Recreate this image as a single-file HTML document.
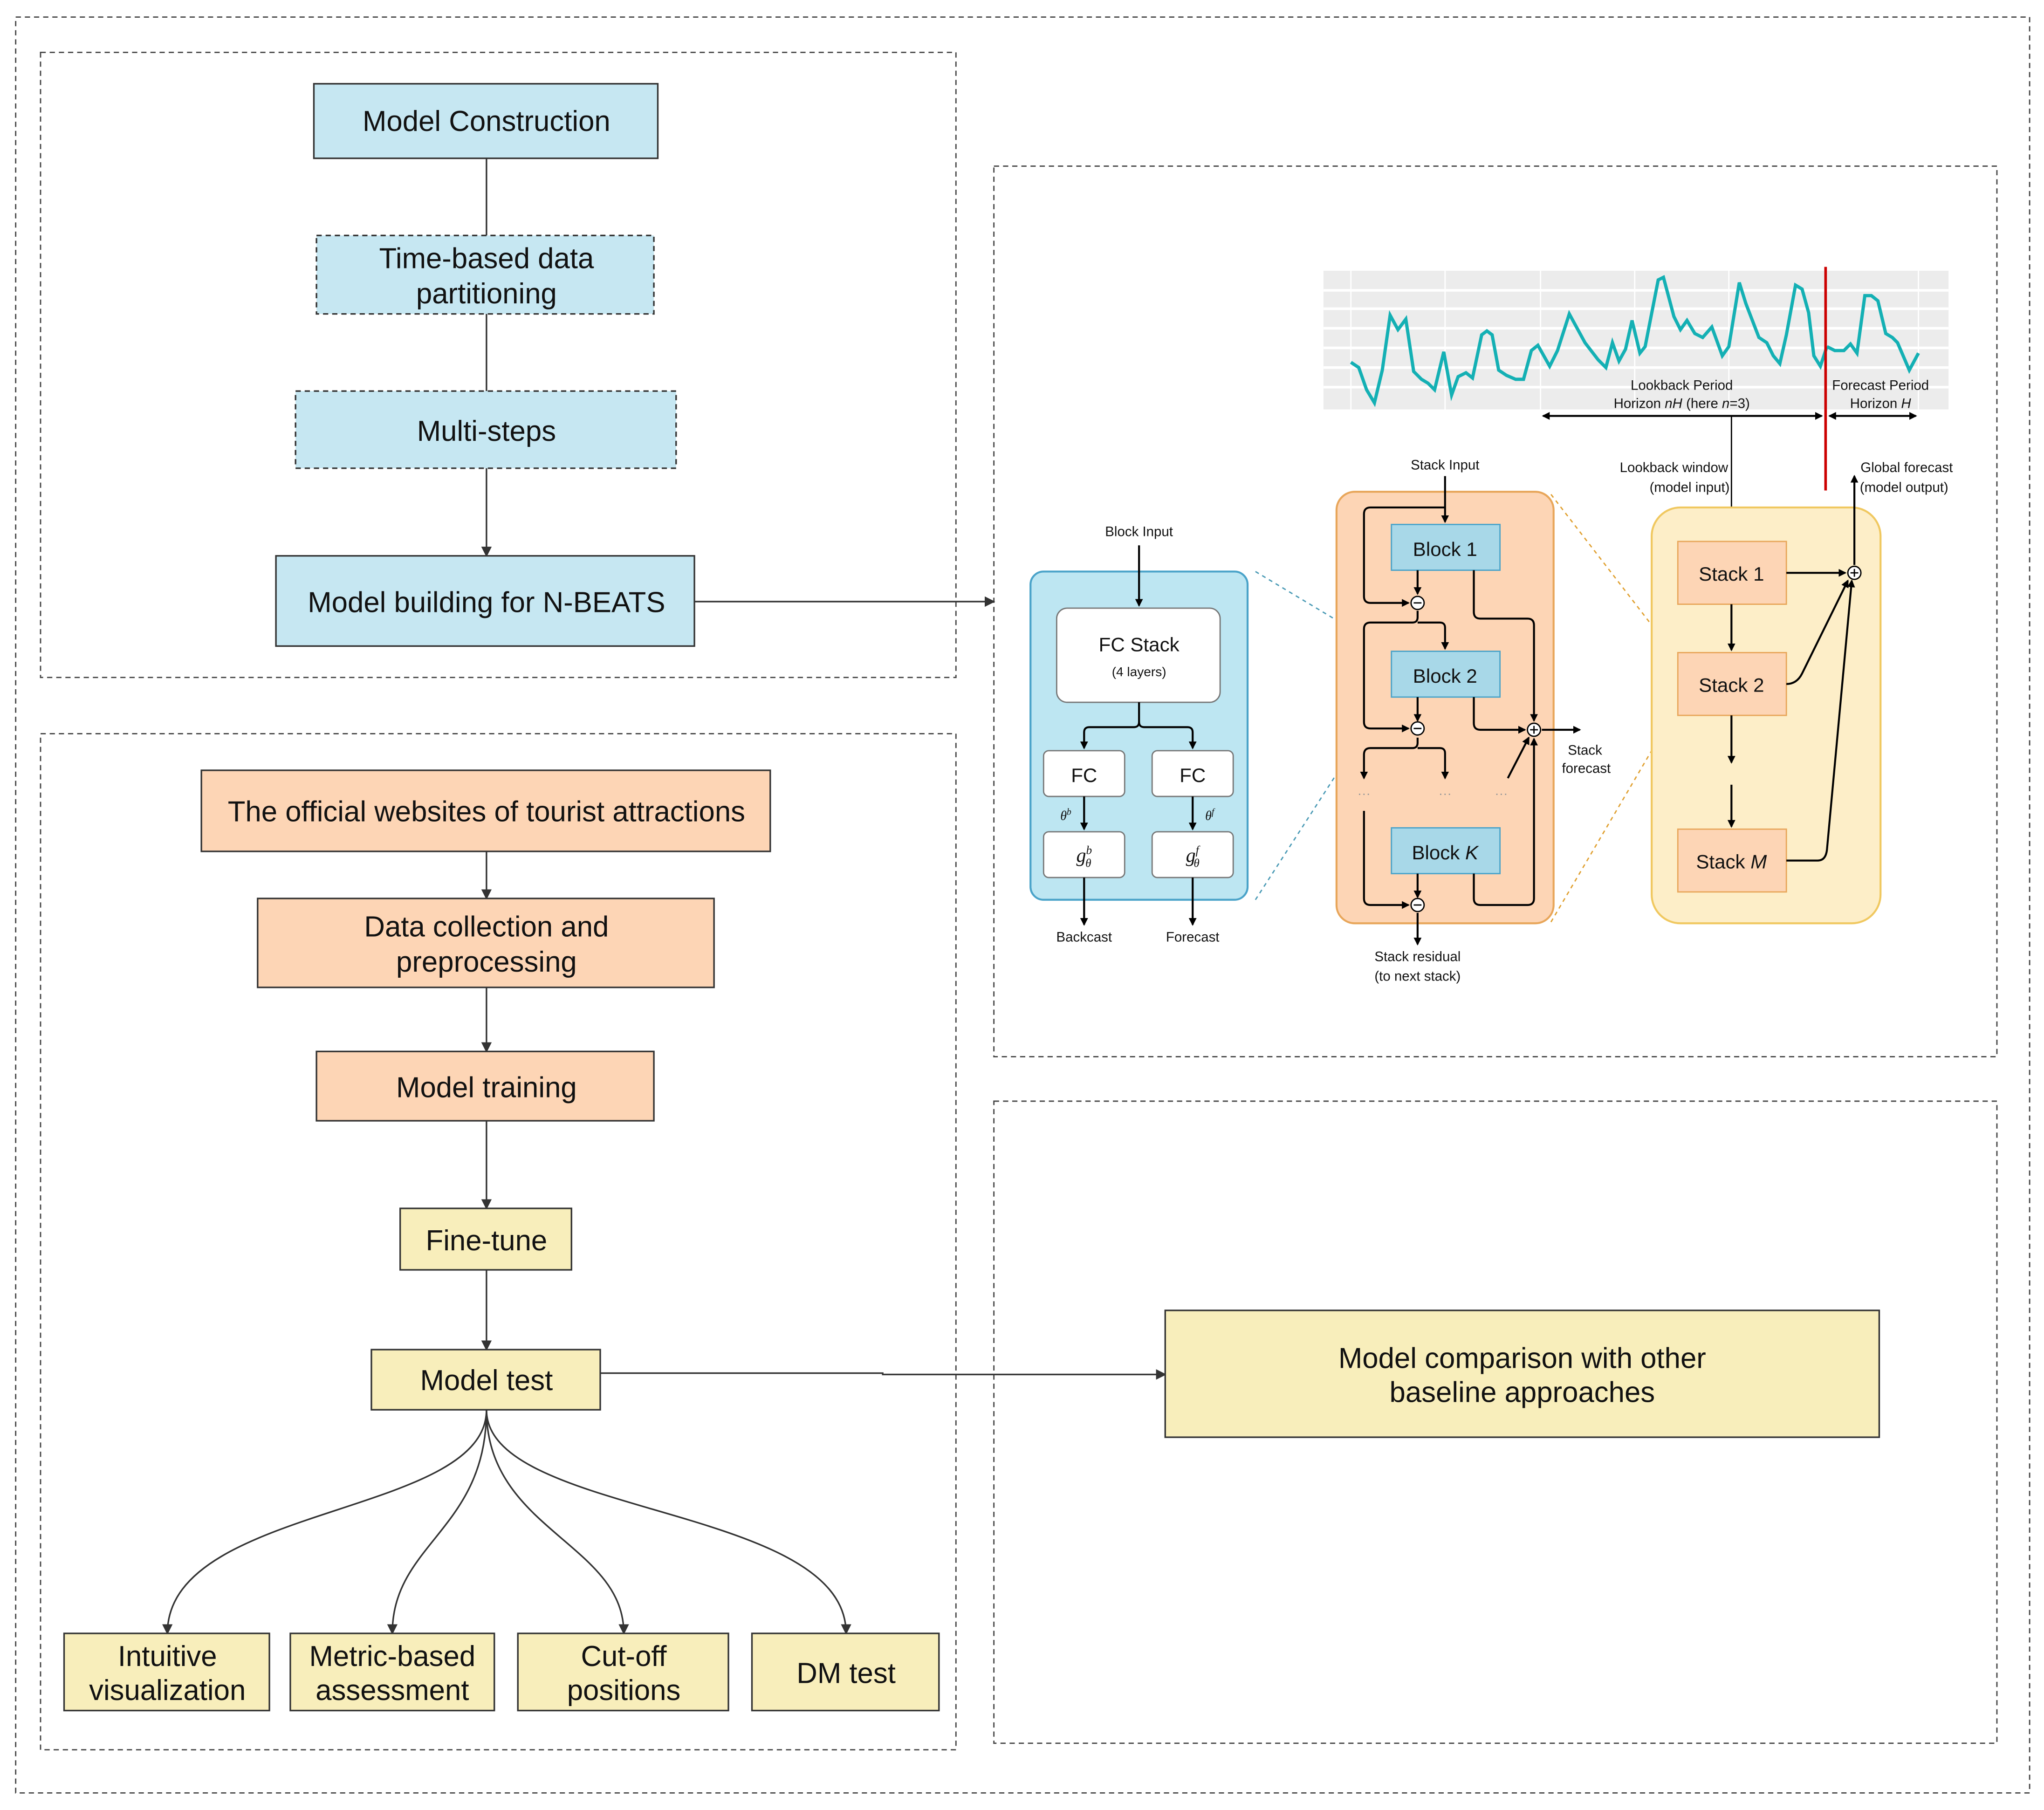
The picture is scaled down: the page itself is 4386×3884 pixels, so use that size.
<!DOCTYPE html>
<html><head><meta charset="utf-8"><style>
html,body{margin:0;padding:0;background:#fff}
svg{display:block}
.t{font-family:"Liberation Sans","DejaVu Sans",sans-serif;fill:#111}
</style></head><body>
<svg width="4386" height="3884" viewBox="0 0 1563 1384" xmlns="http://www.w3.org/2000/svg">
<defs>
<marker id="a" markerWidth="8" markerHeight="8" refX="7" refY="4" orient="auto" markerUnits="userSpaceOnUse"><path d="M0,0 L8,4 L0,8 z" fill="#333"/></marker>
<marker id="s" markerWidth="6" markerHeight="6" refX="5" refY="3" orient="auto" markerUnits="userSpaceOnUse"><path d="M0,0 L6,3 L0,6 z" fill="#000"/></marker>
<marker id="sb" markerWidth="6" markerHeight="6" refX="1" refY="3" orient="auto" markerUnits="userSpaceOnUse"><path d="M6,0 L0,3 L6,6 z" fill="#000"/></marker>
</defs>
<rect width="1563" height="1384" fill="#fff"/>
<g fill="none" stroke="#444" stroke-width="1" stroke-dasharray="4,3">
<rect x="12" y="13" width="1540" height="1358"/>
<rect x="31" y="40" width="700" height="478"/>
<rect x="31" y="561" width="700" height="777"/>
<rect x="760" y="127" width="767" height="681"/>
<rect x="760" y="842" width="767" height="491"/>
</g>
<g stroke="#333" stroke-width="1.2" fill="none">
<line x1="372" y1="121" x2="372" y2="180"/>
<line x1="372" y1="240" x2="372" y2="299"/>
<line x1="372" y1="358" x2="372" y2="425" marker-end="url(#a)"/>
<line x1="531" y1="460" x2="760" y2="460" marker-end="url(#a)"/>
<line x1="372" y1="651" x2="372" y2="687" marker-end="url(#a)"/>
<line x1="372" y1="755" x2="372" y2="804" marker-end="url(#a)"/>
<line x1="372" y1="857" x2="372" y2="924" marker-end="url(#a)"/>
<line x1="372" y1="971" x2="372" y2="1032" marker-end="url(#a)"/>
<path d="M459,1050 L675,1050 L675,1051 L891,1051" marker-end="url(#a)"/>
<path d="M372,1078 C372,1160 128,1150 128,1249" marker-end="url(#a)"/>
<path d="M372,1078 C372,1170 300,1180 300,1249" marker-end="url(#a)"/>
<path d="M372,1078 C372,1170 477,1180 477,1249" marker-end="url(#a)"/>
<path d="M372,1078 C372,1160 647,1150 647,1249" marker-end="url(#a)"/>
</g>
<g stroke="#333" stroke-width="1.2">
<rect x="240" y="64" width="263" height="57" fill="#c6e7f2"/>
<rect x="242" y="180" width="258" height="60" fill="#c6e7f2" stroke-dasharray="4,3"/>
<rect x="226" y="299" width="291" height="59" fill="#c6e7f2" stroke-dasharray="4,3"/>
<rect x="211" y="425" width="320" height="69" fill="#c6e7f2"/>
<rect x="154" y="589" width="435" height="62" fill="#fdd5b5"/>
<rect x="197" y="687" width="349" height="68" fill="#fdd5b5"/>
<rect x="242" y="804" width="258" height="53" fill="#fdd5b5"/>
<rect x="306" y="924" width="131" height="47" fill="#f8eebb"/>
<rect x="284" y="1032" width="175" height="46" fill="#f8eebb"/>
<rect x="891" y="1002" width="546" height="97" fill="#f8eebb"/>
<rect x="49" y="1249" width="157" height="59" fill="#f8eebb"/>
<rect x="222" y="1249" width="156" height="59" fill="#f8eebb"/>
<rect x="396" y="1249" width="161" height="59" fill="#f8eebb"/>
<rect x="575" y="1249" width="143" height="59" fill="#f8eebb"/>
</g>
<g class="t" font-size="22" text-anchor="middle">
<text x="372" y="100">Model Construction</text>
<text x="372" y="205">Time-based data</text><text x="372" y="232">partitioning</text>
<text x="372" y="337">Multi-steps</text>
<text x="372" y="468">Model building for N-BEATS</text>
<text x="372" y="628">The official websites of tourist attractions</text>
<text x="372" y="716">Data collection and</text><text x="372" y="743">preprocessing</text>
<text x="372" y="839">Model training</text>
<text x="372" y="956">Fine-tune</text>
<text x="372" y="1063">Model test</text>
<text x="1164" y="1046">Model comparison with other</text><text x="1164" y="1072">baseline approaches</text>
<text x="128" y="1274">Intuitive</text><text x="128" y="1300">visualization</text>
<text x="300" y="1274">Metric-based</text><text x="300" y="1300">assessment</text>
<text x="477" y="1274">Cut-off</text><text x="477" y="1300">positions</text>
<text x="647" y="1287">DM test</text>
</g>
<!-- chart -->
<rect x="1012" y="207" width="478" height="106" fill="#ececec"/>
<g stroke="#fff" stroke-width="2">
<line x1="1012" y1="222" x2="1490" y2="222"/><line x1="1012" y1="236" x2="1490" y2="236"/><line x1="1012" y1="251" x2="1490" y2="251"/><line x1="1012" y1="266" x2="1490" y2="266"/><line x1="1012" y1="281" x2="1490" y2="281"/><line x1="1012" y1="296" x2="1490" y2="296"/>
<line x1="1033" y1="207" x2="1033" y2="313" stroke-width="1"/><line x1="1105" y1="207" x2="1105" y2="313" stroke-width="1"/><line x1="1178" y1="207" x2="1178" y2="313" stroke-width="1"/><line x1="1250" y1="207" x2="1250" y2="313" stroke-width="1"/><line x1="1322" y1="207" x2="1322" y2="313" stroke-width="1"/><line x1="1467" y1="207" x2="1467" y2="313" stroke-width="1"/>
</g>
<polyline fill="none" stroke="#14b0b4" stroke-width="2.5" points="1033,277 1039,281 1045,298 1051,308 1057,283 1063,241 1069,252 1075,244 1081,284 1087,290 1092,293 1097,298 1104,269 1110,302 1115,288 1121,285 1126,289 1133,256 1137,253 1141,256 1146,283 1152,287 1159,290 1165,290 1171,268 1176,264 1185,280 1191,268 1200,240 1212,262 1222,275 1228,281 1233,262 1238,276 1243,267 1248,245 1254,270 1258,265 1268,214 1272,212 1280,242 1285,252 1290,245 1296,255 1302,258 1309,250 1317,272 1322,265 1330,216 1335,232 1345,258 1351,262 1356,272 1361,278 1366,256 1373,218 1378,221 1383,239 1387,272 1392,280 1397,265"/>
<polyline fill="none" stroke="#14b0b4" stroke-width="2.5" points="1397,265 1403,268 1410,268 1415,263 1420,270 1426,226 1431,226 1436,230 1442,255 1447,258 1451,262 1460,283 1467,270"/>
<line x1="1396" y1="204" x2="1396" y2="375" stroke="#c00" stroke-width="2"/>
<g stroke="#000" stroke-width="1.5">
<line x1="1180" y1="318" x2="1393" y2="318" marker-start="url(#sb)" marker-end="url(#s)"/>
<line x1="1399" y1="318" x2="1465" y2="318" marker-start="url(#sb)" marker-end="url(#s)"/>
<line x1="1324" y1="318" x2="1324" y2="412" stroke-width="1" marker-end="url(#s)"/>
</g>
<g class="t" font-size="10.5" text-anchor="middle">
<text x="1286" y="298">Lookback Period</text><text x="1286" y="312">Horizon <tspan font-style="italic">nH</tspan> (here <tspan font-style="italic">n</tspan>=3)</text>
<text x="1438" y="298">Forecast Period</text><text x="1438" y="312">Horizon <tspan font-style="italic">H</tspan></text>
<text x="1280" y="361">Lookback window</text><text x="1292" y="376">(model input)</text>
<text x="1458" y="361">Global forecast</text><text x="1456" y="376">(model output)</text>
<text x="1105" y="359">Stack Input</text>
<text x="871" y="410">Block Input</text>
<text x="829" y="720">Backcast</text><text x="912" y="720">Forecast</text>
<text x="1084" y="735">Stack residual</text><text x="1084" y="750">(to next stack)</text>
<text x="1212" y="577">Stack</text><text x="1213" y="591">forecast</text>
</g>
<!-- blue block -->
<rect x="788" y="437" width="166" height="251" rx="10" fill="#bde6f2" stroke="#4aa3c9" stroke-width="1.5"/>
<g stroke="#777" stroke-width="1" fill="#fff">
<rect x="808" y="465" width="125" height="72" rx="8"/>
<rect x="798" y="574" width="62" height="35" rx="4"/>
<rect x="881" y="574" width="62" height="35" rx="4"/>
<rect x="798" y="636" width="62" height="35" rx="4"/>
<rect x="881" y="636" width="62" height="35" rx="4"/>
</g>
<g stroke="#000" stroke-width="1.5" fill="none">
<line x1="871" y1="417" x2="871" y2="463" marker-end="url(#s)"/>
<path d="M871,537 L871,552 Q871,556 867,556 L833,556 Q829,556 829,560 L829,572" marker-end="url(#s)"/>
<path d="M871,552 Q871,556 875,556 L908,556 Q912,556 912,560 L912,572" marker-end="url(#s)"/>
<line x1="829" y1="609" x2="829" y2="634" marker-end="url(#s)"/>
<line x1="912" y1="609" x2="912" y2="634" marker-end="url(#s)"/>
<line x1="829" y1="671" x2="829" y2="707" marker-end="url(#s)"/>
<line x1="912" y1="671" x2="912" y2="707" marker-end="url(#s)"/>
</g>
<g class="t" text-anchor="middle">
<text x="871" y="498" font-size="15">FC Stack</text><text x="871" y="517" font-size="10">(4 layers)</text>
<text x="829" y="598" font-size="15">FC</text><text x="912" y="598" font-size="15">FC</text>
<text x="829" y="659" font-size="15" font-family="Liberation Serif" font-style="italic">g<tspan font-size="9" dy="-6">b</tspan><tspan font-size="9" dx="-5" dy="10">θ</tspan></text>
<text x="912" y="659" font-size="15" font-family="Liberation Serif" font-style="italic">g<tspan font-size="9" dy="-6">f</tspan><tspan font-size="9" dx="-4" dy="10">θ</tspan></text>
<text x="815" y="627" font-size="10" font-family="Liberation Serif" font-style="italic">θ<tspan font-size="7" dy="-4">b</tspan></text>
<text x="925" y="627" font-size="10" font-family="Liberation Serif" font-style="italic">θ<tspan font-size="7" dy="-4">f</tspan></text>
</g>
<line x1="960" y1="437" x2="1060" y2="497" stroke="#4a9ab5" stroke-dasharray="3,3"/>
<line x1="960" y1="688" x2="1060" y2="533" stroke="#4a9ab5" stroke-dasharray="3,3"/>
<!-- orange stack -->
<rect x="1022" y="376" width="166" height="330" rx="14" fill="#fdd5b5" stroke="#e8a65a" stroke-width="1.5"/>
<g stroke="#4aa3c9" stroke-width="1" fill="#a8d8e8">
<rect x="1064" y="401" width="83" height="35"/>
<rect x="1064" y="498" width="83" height="35"/>
<rect x="1064" y="633" width="83" height="35"/>
</g>
<g class="t" font-size="15" text-anchor="middle">
<text x="1105" y="425">Block 1</text><text x="1105" y="522">Block 2</text><text x="1105" y="657">Block <tspan font-style="italic">K</tspan></text>
</g>
<g stroke="#000" stroke-width="1.5" fill="none">
<line x1="1105" y1="364" x2="1105" y2="399" marker-end="url(#s)"/>
<path d="M1105,388 L1048,388 Q1043,388 1043,393 L1043,456 Q1043,461 1048,461 L1077,461" marker-end="url(#s)"/>
<line x1="1084" y1="436" x2="1084" y2="454" marker-end="url(#s)"/>
<path d="M1084,467 L1084,472 Q1084,476 1080,476 L1048,476 Q1043,476 1043,481 L1043,552 Q1043,557 1048,557 L1077,557" marker-end="url(#s)"/>
<path d="M1084,476 L1101,476 Q1105,476 1105,480 L1105,496" marker-end="url(#s)"/>
<line x1="1084" y1="533" x2="1084" y2="551" marker-end="url(#s)"/>
<path d="M1084,564 L1084,568 Q1084,572 1080,572 L1048,572 Q1043,572 1043,577 L1043,595" marker-end="url(#s)"/>
<path d="M1084,572 L1101,572 Q1105,572 1105,576 L1105,595" marker-end="url(#s)"/>
<path d="M1043,620 L1043,687 Q1043,692 1048,692 L1077,692" marker-end="url(#s)"/>
<line x1="1084" y1="668" x2="1084" y2="686" marker-end="url(#s)"/>
<line x1="1084" y1="698" x2="1084" y2="722" marker-end="url(#s)"/>
<path d="M1127,436 L1127,468 Q1127,473 1132,473 L1168,473 Q1173,473 1173,478 L1173,551" marker-end="url(#s)"/>
<path d="M1127,533 L1127,553 Q1127,558 1132,558 L1166,558" marker-end="url(#s)"/>
<path d="M1127,668 L1127,687 Q1127,692 1132,692 L1168,692 Q1173,692 1173,687 L1173,565" marker-end="url(#s)"/>
<line x1="1153" y1="595" x2="1169" y2="564" marker-end="url(#s)"/>
<line x1="1179" y1="558" x2="1208" y2="558" marker-end="url(#s)"/>
</g>
<g fill="#fff" stroke="#000" stroke-width="1">
<circle cx="1084" cy="461" r="5"/><circle cx="1084" cy="557" r="5"/><circle cx="1084" cy="692" r="5"/><circle cx="1173" cy="558" r="5"/>
</g>
<g stroke="#000" stroke-width="1">
<line x1="1081" y1="461" x2="1087" y2="461"/><line x1="1081" y1="557" x2="1087" y2="557"/><line x1="1081" y1="692" x2="1087" y2="692"/>
<line x1="1170" y1="558" x2="1176" y2="558"/><line x1="1173" y1="555" x2="1173" y2="561"/>
</g>
<g class="t" font-size="10" fill="#999" text-anchor="middle">
<text x="1043" y="610" fill="#999">···</text><text x="1105" y="610" fill="#999">···</text><text x="1148" y="610" fill="#999">···</text><text x="1324" y="594" fill="#999">···</text>
</g>
<line x1="1186" y1="378" x2="1280" y2="500" stroke="#e0a030" stroke-dasharray="3,3"/>
<line x1="1186" y1="705" x2="1280" y2="545" stroke="#e0a030" stroke-dasharray="3,3"/>
<!-- yellow stacks -->
<rect x="1263" y="388" width="175" height="318" rx="22" fill="#fdeec8" stroke="#f0c860" stroke-width="1.5"/>
<g stroke="#e8a65a" stroke-width="1" fill="#fdd5b5">
<rect x="1283" y="414" width="83" height="48"/>
<rect x="1283" y="499" width="83" height="48"/>
<rect x="1283" y="634" width="83" height="48"/>
</g>
<g class="t" font-size="15" text-anchor="middle">
<text x="1324" y="444">Stack 1</text><text x="1324" y="529">Stack 2</text><text x="1324" y="664">Stack <tspan font-style="italic">M</tspan></text>
</g>
<g stroke="#000" stroke-width="1.5" fill="none">
<line x1="1324" y1="462" x2="1324" y2="497" marker-end="url(#s)"/>
<line x1="1324" y1="547" x2="1324" y2="583" marker-end="url(#s)"/>
<line x1="1324" y1="600" x2="1324" y2="632" marker-end="url(#s)"/>
<line x1="1366" y1="438" x2="1411" y2="438" marker-end="url(#s)"/>
<path d="M1366,523 Q1374,523 1378,515 L1413,444" marker-end="url(#s)"/>
<path d="M1366,658 L1390,658 Q1396,658 1397,650 L1416,444" marker-end="url(#s)"/>
<line x1="1418" y1="432" x2="1418" y2="364" marker-end="url(#s)"/>
</g>
<circle cx="1418" cy="438" r="5" fill="#fff" stroke="#000"/>
<line x1="1415" y1="438" x2="1421" y2="438" stroke="#000"/><line x1="1418" y1="435" x2="1418" y2="441" stroke="#000"/>
</svg>
</body></html>
